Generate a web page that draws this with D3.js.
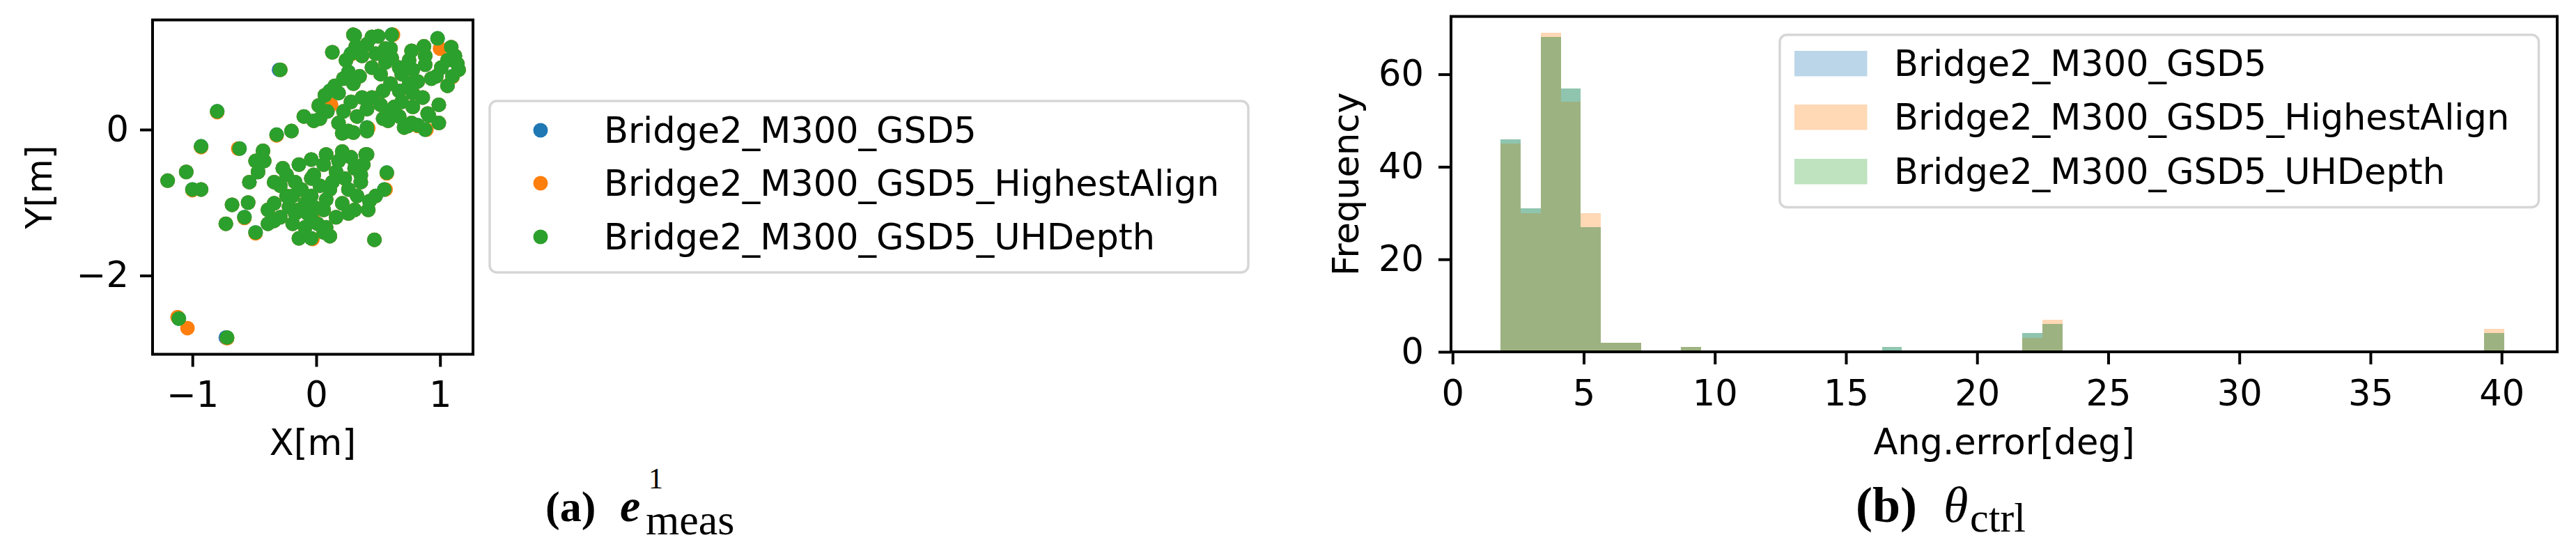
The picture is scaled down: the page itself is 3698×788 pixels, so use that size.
<!DOCTYPE html>
<html><head><meta charset="utf-8">
<script src="https://cdn.jsdelivr.net/npm/d3@7"></script>
<style>
body{margin:0;background:#fff}
svg{display:block}
text{font-family:"DejaVu Sans",sans-serif;fill:#000}
.cap{font-family:"Liberation Serif",serif}
</style>
</head><body>
<svg id="c" width="3698" height="788"></svg>
<script>
// ---------- data ----------
const seriesNames = ["Bridge2_M300_GSD5", "Bridge2_M300_GSD5_HighestAlign", "Bridge2_M300_GSD5_UHDepth"];
const seriesColors = ["#1f77b4", "#ff7f0e", "#2ca02c"];

// scatter (a): X[m], Y[m]
const gsd5Pts = [
[-0.30,0.82],[-0.80,0.25],[-0.93,-0.23],[-1.20,-0.70],[-1.05,-0.58],[-1.00,-0.82],[-0.93,-0.82],[-1.11,-2.59],[-0.73,-2.85],[-0.32,-0.07],[-0.20,-0.02],[-0.62,-0.26],[-0.68,-1.03],[-0.73,-1.29],[-0.55,-1.0],[-0.58,-1.2],[-0.49,-1.41],[-0.54,-0.72],[0.47,-1.51],[0.57,-0.59],[0.55,-0.82],[0.48,-0.91],[0.42,-1.10],[0.40,-0.34],
[0.13,1.06],[0.30,1.30],[0.50,1.28],[0.61,1.30],[0.41,1.17],[0.28,1.04],[0.37,1.01],[0.48,1.04],[0.60,1.11],[0.61,0.98],[0.77,1.08],[0.87,1.14],[0.98,1.25],[1.09,1.13],[1.06,0.95],[1.15,0.82],[1.10,0.73],[0.97,0.73],[1.06,0.60],[0.88,0.89],[0.78,0.82],[0.69,0.76],[0.60,0.63],[0.52,0.76],[0.45,0.85],[0.26,0.79],[0.22,0.70],[0.30,0.63],[0.11,0.53],[0.18,0.50],[0.02,0.33],[-0.10,0.18],[-0.02,0.12],[0.09,0.25],[0.22,0.25],[0.33,0.18],[0.41,0.28],[0.45,0.44],[0.54,0.53],[0.67,0.53],[0.78,0.50],[0.86,0.44],[0.99,0.34],[0.90,0.22],[0.99,0.09],[0.88,0.0],[0.77,0.09],[0.67,0.18],[0.54,0.15],[0.41,0.03],[0.22,-0.04],[0.30,-0.04],[0.63,0.31],[0.69,0.38],[0.75,0.63],[0.82,0.66],[0.93,0.70],[1.01,0.85],[1.12,1.01],[0.88,1.01],[0.75,0.95],[0.67,0.85],[0.56,0.92],[0.24,0.95],[0.32,1.14],[0.45,1.27],[0.56,1.11],[0.35,0.73],[0.15,0.60],[0.07,0.47],[0.28,0.38],[0.37,0.44],[0.52,0.34],[0.60,0.25],[0.78,0.31],[0.71,0.03],[0.82,0.06],[0.58,0.12],[0.18,0.09],[0.03,0.15],[0.74,0.05],[0.91,0.19],[0.21,-0.05],[0.26,-0.02],[0.41,-0.02],[0.31,1.29],[1.14,0.90],
[0.41,-0.34],[0.21,-0.30],[0.08,-0.34],[-0.04,-0.41],[0.31,-0.53],[0.16,-0.58],[-0.02,-0.62],[-0.17,-0.72],[-0.29,-0.77],[-0.42,-0.43],[-0.49,-0.43],[-0.43,-0.29],[-0.47,-0.58],[-0.34,-0.72],[-0.27,-0.53],[0.36,-0.72],[0.26,-0.82],[0.11,-0.82],[-0.04,-0.91],[-0.19,-0.91],[-0.34,-1.01],[-0.39,-1.10],[-0.29,-1.20],[-0.17,-1.15],[-0.04,-1.20],[0.06,-1.10],[0.21,-1.01],[0.33,-0.91],[0.26,-1.15],[0.08,-1.34],[-0.09,-1.34],[-0.14,-1.49],[-0.04,-1.49],[0.06,-1.41],[0.11,-1.46],[-0.39,-1.29],[-0.34,-1.25],[-0.14,-0.48],[0.06,-0.48],[0.18,-0.43],[0.28,-0.38],[0.38,-0.48],[0.36,-0.62],[-0.04,-0.67],[0.03,-0.77],[-0.12,-0.82],[-0.24,-0.91],[0.13,-0.72],[0.23,-0.67],[0.31,-1.10],[0.16,-1.20],[-0.22,-1.06],[-0.14,-1.10],[-0.02,-1.06],[0.08,-0.96],[-0.09,-1.01],[-0.19,-1.29],[0.01,-1.29],[-0.07,-1.15],[-0.24,-0.62],[0.43,-0.98]
];
const highestAlignPts = [
[-0.29,0.82],[-0.80,0.24],[-0.93,-0.24],[-1.20,-0.70],[-1.05,-0.58],[-1.00,-0.83],[-0.93,-0.82],[-1.12,-2.57],[-1.04,-2.72],[-0.72,-2.86],[-0.32,-0.08],[-0.20,-0.02],[-0.63,-0.26],[-0.68,-1.03],[-0.73,-1.29],[-0.55,-1.0],[-0.58,-1.21],[-0.49,-1.42],[-0.54,-0.72],[0.47,-1.51],[0.57,-0.60],[0.56,-0.82],[0.48,-0.91],[0.42,-1.10],[0.40,-0.34],
[0.13,1.06],[0.30,1.30],[0.50,1.28],[0.62,1.30],[0.41,1.17],[0.28,1.03],[0.37,1.01],[0.48,1.04],[0.60,1.11],[0.61,0.98],[0.77,1.08],[0.87,1.14],[1.00,1.11],[1.09,1.13],[1.06,0.95],[1.15,0.82],[1.10,0.72],[0.97,0.73],[1.06,0.60],[0.88,0.89],[0.78,0.82],[0.69,0.76],[0.60,0.63],[0.52,0.76],[0.45,0.85],[0.26,0.78],[0.22,0.70],[0.30,0.63],[0.12,0.34],[0.18,0.50],[0.02,0.33],[-0.10,0.18],[-0.02,0.12],[0.09,0.25],[0.22,0.25],[0.33,0.18],[0.41,0.28],[0.45,0.44],[0.54,0.53],[0.67,0.53],[0.78,0.50],[0.86,0.44],[0.99,0.34],[0.90,0.22],[0.99,0.09],[0.89,0.0],[0.77,0.09],[0.67,0.18],[0.54,0.15],[0.42,0.02],[0.22,-0.04],[0.30,-0.04],[0.63,0.31],[0.69,0.38],[0.75,0.63],[0.82,0.66],[0.93,0.70],[1.01,0.85],[1.12,1.01],[0.88,1.01],[0.75,0.95],[0.67,0.85],[0.56,0.92],[0.24,0.95],[0.32,1.14],[0.45,1.27],[0.56,1.11],[0.35,0.73],[0.15,0.60],[0.07,0.47],[0.28,0.38],[0.37,0.44],[0.52,0.34],[0.60,0.25],[0.78,0.31],[0.71,0.03],[0.82,0.05],[0.58,0.12],[0.18,0.09],[0.03,0.15],[0.74,0.05],[0.91,0.19],[0.21,-0.05],[0.26,-0.02],[0.41,-0.02],[0.31,1.29],[1.14,0.90],
[0.41,-0.34],[0.21,-0.30],[0.08,-0.34],[-0.04,-0.41],[0.31,-0.53],[0.16,-0.58],[-0.02,-0.62],[-0.17,-0.72],[-0.29,-0.77],[-0.42,-0.43],[-0.49,-0.43],[-0.43,-0.29],[-0.47,-0.58],[-0.34,-0.72],[-0.27,-0.53],[0.36,-0.72],[0.26,-0.82],[0.11,-0.82],[-0.04,-0.91],[-0.19,-0.91],[-0.34,-1.01],[-0.39,-1.10],[-0.29,-1.20],[-0.17,-1.15],[-0.03,-1.21],[0.06,-1.10],[0.21,-1.01],[0.33,-0.91],[0.26,-1.15],[0.08,-1.34],[-0.09,-1.34],[-0.14,-1.49],[-0.03,-1.50],[0.06,-1.41],[0.11,-1.46],[-0.39,-1.29],[-0.34,-1.25],[-0.14,-0.48],[0.06,-0.48],[0.18,-0.43],[0.28,-0.38],[0.38,-0.48],[0.36,-0.62],[-0.04,-0.67],[0.03,-0.77],[-0.12,-0.82],[-0.24,-0.91],[0.13,-0.72],[0.23,-0.67],[0.31,-1.10],[0.16,-1.20],[-0.22,-1.06],[-0.14,-1.10],[-0.02,-1.06],[0.08,-0.96],[-0.09,-1.01],[-0.19,-1.29],[0.01,-1.29],[-0.07,-1.15],[-0.24,-0.62],[0.43,-0.98]
];
const uhDepthPts = [
[-0.29,0.82],[-0.80,0.25],[-0.93,-0.23],[-1.20,-0.70],[-1.05,-0.58],[-1.00,-0.82],[-0.93,-0.82],[-1.11,-2.59],[-0.72,-2.85],[-0.32,-0.07],[-0.20,-0.02],[-0.62,-0.26],[-0.68,-1.03],[-0.73,-1.29],[-0.55,-1.0],[-0.58,-1.2],[-0.49,-1.41],[-0.54,-0.72],[0.47,-1.51],[0.57,-0.59],[0.55,-0.82],[0.48,-0.91],[0.42,-1.10],[0.40,-0.34],
[0.13,1.06],[0.30,1.30],[0.50,1.28],[0.61,1.30],[0.41,1.17],[0.28,1.04],[0.37,1.01],[0.48,1.04],[0.60,1.11],[0.61,0.98],[0.77,1.08],[0.87,1.14],[0.98,1.25],[1.09,1.13],[1.06,0.95],[1.15,0.82],[1.10,0.73],[0.97,0.73],[1.06,0.60],[0.88,0.89],[0.78,0.82],[0.69,0.76],[0.60,0.63],[0.52,0.76],[0.45,0.85],[0.26,0.79],[0.22,0.70],[0.30,0.63],[0.11,0.53],[0.18,0.50],[0.02,0.33],[-0.10,0.18],[-0.02,0.12],[0.09,0.25],[0.22,0.25],[0.33,0.18],[0.41,0.28],[0.45,0.44],[0.54,0.53],[0.67,0.53],[0.78,0.50],[0.86,0.44],[0.99,0.34],[0.90,0.22],[0.99,0.09],[0.88,0.0],[0.77,0.09],[0.67,0.18],[0.54,0.15],[0.41,0.03],[0.22,-0.04],[0.30,-0.04],[0.63,0.31],[0.69,0.38],[0.75,0.63],[0.82,0.66],[0.93,0.70],[1.01,0.85],[1.12,1.01],[0.88,1.01],[0.75,0.95],[0.67,0.85],[0.56,0.92],[0.24,0.95],[0.32,1.14],[0.45,1.27],[0.56,1.11],[0.35,0.73],[0.15,0.60],[0.07,0.47],[0.28,0.38],[0.37,0.44],[0.52,0.34],[0.60,0.25],[0.78,0.31],[0.71,0.03],[0.82,0.06],[0.58,0.12],[0.18,0.09],[0.03,0.15],[0.74,0.05],[0.91,0.19],[0.21,-0.05],[0.26,-0.02],[0.41,-0.02],[0.31,1.29],[1.14,0.90],
[0.41,-0.34],[0.21,-0.30],[0.08,-0.34],[-0.04,-0.41],[0.31,-0.53],[0.16,-0.58],[-0.02,-0.62],[-0.17,-0.72],[-0.29,-0.77],[-0.42,-0.43],[-0.49,-0.43],[-0.43,-0.29],[-0.47,-0.58],[-0.34,-0.72],[-0.27,-0.53],[0.36,-0.72],[0.26,-0.82],[0.11,-0.82],[-0.04,-0.91],[-0.19,-0.91],[-0.34,-1.01],[-0.39,-1.10],[-0.29,-1.20],[-0.17,-1.15],[-0.04,-1.20],[0.06,-1.10],[0.21,-1.01],[0.33,-0.91],[0.26,-1.15],[0.08,-1.34],[-0.09,-1.34],[-0.14,-1.49],[-0.04,-1.49],[0.06,-1.41],[0.11,-1.46],[-0.39,-1.29],[-0.34,-1.25],[-0.14,-0.48],[0.06,-0.48],[0.18,-0.43],[0.28,-0.38],[0.38,-0.48],[0.36,-0.62],[-0.04,-0.67],[0.03,-0.77],[-0.12,-0.82],[-0.24,-0.91],[0.13,-0.72],[0.23,-0.67],[0.31,-1.10],[0.16,-1.20],[-0.22,-1.06],[-0.14,-1.10],[-0.02,-1.06],[0.08,-0.96],[-0.09,-1.01],[-0.19,-1.29],[0.01,-1.29],[-0.07,-1.15],[-0.24,-0.62],[0.43,-0.98]
];
const scatterXTicks = [-1, 0, 1];
const scatterYTicks = [-2, 0];

// histogram (b): Ang.error[deg], 50 bins
const histBinStart = 1.83, histBinEnd = 40.1, histBinCount = 50;
const gsd5Counts =         [46,31,68,57,27,2,2,0,0,1, 0,0,0,0,0,0,0,0,0,1, 0,0,0,0,0,0,4,6,0,0, 0,0,0,0,0,0,0,0,0,0, 0,0,0,0,0,0,0,0,0,4];
const highestAlignCounts = [45,30,69,54,30,2,2,0,0,1, 0,0,0,0,0,0,0,0,0,0, 0,0,0,0,0,0,3,7,0,0, 0,0,0,0,0,0,0,0,0,0, 0,0,0,0,0,0,0,0,0,5];
const uhDepthCounts =      [46,31,68,57,27,2,2,0,0,1, 0,0,0,0,0,0,0,0,0,1, 0,0,0,0,0,0,4,6,0,0, 0,0,0,0,0,0,0,0,0,0, 0,0,0,0,0,0,0,0,0,4];
const histXTicks = [0, 5, 10, 15, 20, 25, 30, 35, 40];
const histYTicks = [0, 20, 40, 60];

// ---------- drawing ----------
const svg = d3.select("#c");
svg.append("rect").attr("width", 3698).attr("height", 788).attr("fill", "#fff");
const FS = 51;

function styleAxis(g) {
  g.select(".domain").remove();
  g.selectAll(".tick line").attr("stroke", "#000").attr("stroke-width", 4);
  g.selectAll(".tick text").attr("font-size", FS).attr("font-family", "DejaVu Sans").attr("fill", "#000");
}

// ===== Panel (a) scatter =====
const A = {l: 219, r: 679, t: 28.6, b: 508.5};
const xA = d3.scaleLinear().domain([-1.322, 1.266]).range([A.l, A.r]);
const yA = d3.scaleLinear().domain([-3.079, 1.503]).range([A.b, A.t]);
svg.append("clipPath").attr("id", "clipA").append("rect")
  .attr("x", A.l).attr("y", A.t).attr("width", A.r - A.l).attr("height", A.b - A.t);
const ptsSets = [gsd5Pts, highestAlignPts, uhDepthPts];
ptsSets.forEach((pts, i) => {
  svg.append("g").attr("clip-path", "url(#clipA)").selectAll("circle").data(pts).join("circle")
    .attr("cx", d => xA(d[0])).attr("cy", d => yA(d[1])).attr("r", 10.5)
    .attr("fill", seriesColors[i]);
});
svg.append("g").attr("transform", `translate(0,${A.b})`)
  .call(d3.axisBottom(xA).tickValues(scatterXTicks).tickSize(18).tickPadding(21).tickFormat(d3.format("d")))
  .call(styleAxis);
svg.append("g").attr("transform", `translate(${A.l},0)`)
  .call(d3.axisLeft(yA).tickValues(scatterYTicks).tickSize(18).tickPadding(16).tickFormat(d3.format("d")))
  .call(styleAxis);
svg.append("rect").attr("x", A.l).attr("y", A.t).attr("width", A.r - A.l).attr("height", A.b - A.t)
  .attr("fill", "none").attr("stroke", "#000").attr("stroke-width", 4);
svg.append("text").attr("x", (A.l + A.r) / 2).attr("y", 653).attr("text-anchor", "middle")
  .attr("font-size", FS).text("X[m]");
svg.append("text").attr("transform", `translate(73.5,${(A.t + A.b) / 2}) rotate(-90)`)
  .attr("text-anchor", "middle").attr("font-size", FS).text("Y[m]");

// legend (a)
const LA = {x: 703, y: 145, w: 1089, h: 246, rows: [187, 263, 340]};
svg.append("rect").attr("x", LA.x).attr("y", LA.y).attr("width", LA.w).attr("height", LA.h)
  .attr("rx", 10).attr("fill", "#fff").attr("fill-opacity", 0.8)
  .attr("stroke", "#d6d6d6").attr("stroke-width", 3.5);
seriesNames.forEach((n, i) => {
  svg.append("circle").attr("cx", 776).attr("cy", LA.rows[i]).attr("r", 10.5).attr("fill", seriesColors[i]);
  svg.append("text").attr("x", 867).attr("y", LA.rows[i] + 18).attr("font-size", FS).text(n);
});

// caption (a): one text element with tspans
const capA = svg.append("text").attr("class", "cap").attr("y", 748);
capA.append("tspan").attr("x", 783).attr("y", 748).attr("font-size", 62).attr("font-weight", "bold").text("(a)");
capA.append("tspan").attr("x", 890).attr("y", 748).attr("font-size", 66).attr("font-weight", "bold").attr("font-style", "italic").text("e");
capA.append("tspan").attr("x", 931).attr("y", 701).attr("font-size", 42).text("1");
capA.append("tspan").attr("x", 927).attr("y", 767).attr("font-size", 62).text("meas");

// ===== Panel (b) histogram =====
const B = {l: 2083, r: 3671, t: 23.6, b: 505};
const xB = d3.scaleLinear().domain([-0.06, 42.12]).range([B.l, B.r]);
const yB = d3.scaleLinear().domain([0, 72.5]).range([B.b, B.t]);
const binW = (histBinEnd - histBinStart) / histBinCount;
const countSets = [gsd5Counts, highestAlignCounts, uhDepthCounts];
countSets.forEach((counts, i) => {
  const bins = counts.map((c, k) => ({x0: histBinStart + k * binW, x1: histBinStart + (k + 1) * binW, c}))
    .filter(d => d.c > 0);
  svg.append("g").selectAll("rect").data(bins).join("rect")
    .attr("x", d => xB(d.x0)).attr("width", d => xB(d.x1) - xB(d.x0))
    .attr("y", d => yB(d.c)).attr("height", d => yB(0) - yB(d.c))
    .attr("fill", seriesColors[i]).attr("fill-opacity", 0.3)
    .attr("shape-rendering", "crispEdges");
});
svg.append("g").attr("transform", `translate(0,${B.b})`)
  .call(d3.axisBottom(xB).tickValues(histXTicks).tickSize(18).tickPadding(23))
  .call(styleAxis);
svg.append("g").attr("transform", `translate(${B.l},0)`)
  .call(d3.axisLeft(yB).tickValues(histYTicks).tickSize(18).tickPadding(21))
  .call(styleAxis);
svg.append("rect").attr("x", B.l).attr("y", B.t).attr("width", B.r - B.l).attr("height", B.b - B.t)
  .attr("fill", "none").attr("stroke", "#000").attr("stroke-width", 4);
svg.append("text").attr("x", (B.l + B.r) / 2).attr("y", 652).attr("text-anchor", "middle")
  .attr("font-size", FS).text("Ang.error[deg]");
svg.append("text").attr("transform", `translate(1950,${(B.t + B.b) / 2}) rotate(-90)`)
  .attr("text-anchor", "middle").attr("font-size", FS).text("Frequency");

// legend (b)
const LB = {x: 2555, y: 50, w: 1089.5, h: 247.5, rows: [91, 168, 246]};
svg.append("rect").attr("x", LB.x).attr("y", LB.y).attr("width", LB.w).attr("height", LB.h)
  .attr("rx", 10).attr("fill", "#fff").attr("fill-opacity", 0.8)
  .attr("stroke", "#d6d6d6").attr("stroke-width", 3.5);
seriesNames.forEach((n, i) => {
  svg.append("rect").attr("x", 2576).attr("y", LB.rows[i] - 18).attr("width", 104.5).attr("height", 36.5)
    .attr("fill", seriesColors[i]).attr("fill-opacity", 0.3);
  svg.append("text").attr("x", 2719).attr("y", LB.rows[i] + 18).attr("font-size", FS).text(n);
});

// caption (b)
const capB = svg.append("text").attr("class", "cap").attr("y", 749);
capB.append("tspan").attr("x", 2664).attr("y", 749).attr("font-size", 72).attr("font-weight", "bold").text("(b)");
capB.append("tspan").attr("x", 2790).attr("y", 749).attr("font-size", 72).attr("font-style", "italic").text("θ");
capB.append("tspan").attr("x", 2828).attr("y", 763).attr("font-size", 60).text("ctrl");
</script>
</body></html>
